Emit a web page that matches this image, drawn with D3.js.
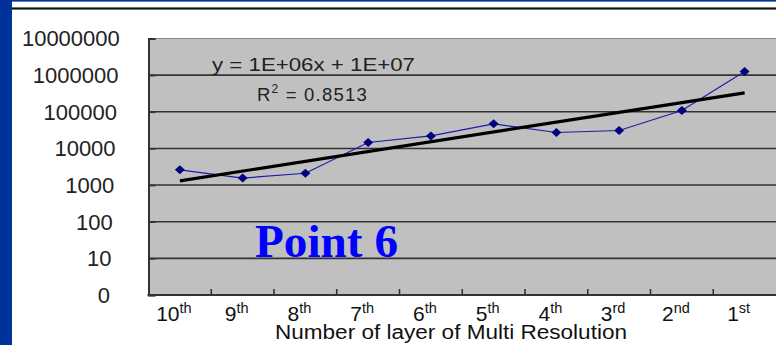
<!DOCTYPE html>
<html>
<head>
<meta charset="utf-8">
<script src="https://cdn.jsdelivr.net/npm/d3@7"></script>
<style>
  html, body { margin: 0; padding: 0; background: #fff; }
  svg { display: block; }
</style>
</head>
<body>
<svg id="chart" width="776" height="345"></svg>
<script>
// Layers of the multi-resolution pyramid, coarsest (10th) to finest (1st)
const layerNumbers = ["10", "9", "8", "7", "6", "5", "4", "3", "2", "1"];
const layerSuffixes = ["th", "th", "th", "th", "th", "th", "th", "rd", "nd", "st"];
// Measured value for Point 6 at each layer
const pointValues = [2600, 1550, 2100, 14500, 22000, 47000, 27200, 30800, 108000, 1260000];
// Logarithmic value axis
const yTickValues = [1, 10, 100, 1000, 10000, 100000, 1000000, 10000000];
const yTickLabels = ["0", "10", "100", "1000", "10000", "100000", "1000000", "10000000"];
const equationText = "y = 1E+06x + 1E+07";
const rSquaredText = "0.8513";
const annotationText = "Point 6";
const axisTitle = "Number of layer of Multi Resolution";

const svg = d3.select("#chart");
const W = 776, H = 345;
const plot = { left: 148.5, right: 776, top: 38.5, bottom: 295 };
const sans = "Liberation Sans, Arial, sans-serif";

// Slide frame: blue side strip, thin blue top band and a dark rule
svg.append("rect").attr("x", 0).attr("y", 0).attr("width", 12).attr("height", H).attr("fill", "#003399");
svg.append("rect").attr("x", 0).attr("y", 0).attr("width", W).attr("height", 1.6).attr("fill", "#003399");
svg.append("rect").attr("x", 12).attr("y", 7).attr("width", W - 12).attr("height", 3).attr("fill", "#8a8a8a");
svg.append("rect").attr("x", 12).attr("y", 7.8).attr("width", W - 12).attr("height", 1.4).attr("fill", "#111");

const ids = layerNumbers.map((d, i) => i);
const x = d3.scaleBand().domain(ids).range([plot.left, plot.right]).padding(0);
const y = d3.scaleLog().domain([1, 1e7]).range([plot.bottom, plot.top]);
const cx = i => x(i) + x.bandwidth() / 2;

// Plot area
svg.append("rect")
  .attr("x", plot.left).attr("y", plot.top)
  .attr("width", plot.right - plot.left).attr("height", plot.bottom - plot.top)
  .attr("fill", "#c0c0c0");
svg.append("line")
  .attr("x1", plot.left).attr("x2", plot.right)
  .attr("y1", plot.top).attr("y2", plot.top)
  .attr("stroke", "#8c8c8c").attr("stroke-width", 1);

// Horizontal gridlines at every decade
svg.append("g").selectAll("line")
  .data(yTickValues.slice(1, -1))
  .join("line")
  .attr("x1", plot.left).attr("x2", plot.right)
  .attr("y1", d => y(d)).attr("y2", d => y(d))
  .attr("stroke", "#333").attr("stroke-width", 1.6);

// Value axis: line with inward ticks, labels drawn separately
const yAxis = svg.append("g")
  .attr("transform", `translate(${plot.left},0)`)
  .call(d3.axisRight(y).tickValues(yTickValues).tickSize(7).tickFormat(""));
yAxis.select(".domain").attr("stroke", "#333").attr("stroke-width", 2);
yAxis.selectAll(".tick line").attr("stroke", "#333").attr("stroke-width", 1.6);

svg.append("g").selectAll("text")
  .data(yTickValues)
  .join("text")
  .attr("x", (d, i) => 110 + 1.4 * i)
  .attr("y", d => y(d))
  .attr("dy", "0.36em")
  .attr("text-anchor", "end")
  .attr("font-family", sans)
  .attr("font-size", 22)
  .attr("fill", "#222")
  .text((d, i) => yTickLabels[i]);

// Category axis: ticks between layers, pointing into the plot
const xEdges = ids.slice(1).map(i => x(i));
svg.append("g").selectAll("line")
  .data(xEdges)
  .join("line")
  .attr("x1", d => d).attr("x2", d => d)
  .attr("y1", plot.bottom - 6).attr("y2", plot.bottom)
  .attr("stroke", "#333").attr("stroke-width", 1.6);
svg.append("line")
  .attr("x1", plot.left - 1).attr("x2", plot.right)
  .attr("y1", plot.bottom).attr("y2", plot.bottom)
  .attr("stroke", "#333").attr("stroke-width", 2);

// Layer labels with ordinal superscripts
const xl = svg.append("g").selectAll("text")
  .data(ids)
  .join("text")
  .attr("x", i => cx(i) - 6)
  .attr("y", 321)
  .attr("text-anchor", "middle")
  .attr("font-family", sans)
  .attr("font-size", 21)
  .attr("fill", "#111");
xl.append("tspan").text(i => layerNumbers[i]);
xl.append("tspan")
  .attr("font-size", 14.5)
  .attr("dy", -8.5)
  .text(i => layerSuffixes[i]);

svg.append("text")
  .attr("x", 451).attr("y", 339)
  .attr("text-anchor", "middle")
  .attr("font-family", sans)
  .attr("font-size", 20)
  .attr("fill", "#111")
  .attr("textLength", 352).attr("lengthAdjust", "spacingAndGlyphs")
  .text(axisTitle);

// Trendline: least-squares fit of log10(value) against layer position
const lx = ids.map(i => i + 1);
const ly = pointValues.map(v => Math.log10(v));
const mx = d3.mean(lx), my = d3.mean(ly);
const slope = d3.sum(lx, (v, k) => (v - mx) * (ly[k] - my)) / d3.sum(lx, v => (v - mx) ** 2);
const intercept = my - slope * mx;
const trendAt = i => Math.pow(10, intercept + slope * (i + 1));
const first = ids[0], last = ids[ids.length - 1];

// Data series
svg.append("path")
  .datum(ids)
  .attr("fill", "none")
  .attr("stroke", "#1c1ca8")
  .attr("stroke-width", 1.2)
  .attr("d", d3.line().x(i => cx(i)).y(i => y(pointValues[i])));

svg.append("line")
  .attr("x1", cx(first)).attr("y1", y(trendAt(first)))
  .attr("x2", cx(last)).attr("y2", y(trendAt(last)))
  .attr("stroke", "#000").attr("stroke-width", 3.2);

svg.append("g").selectAll("path")
  .data(ids)
  .join("path")
  .attr("transform", i => `translate(${cx(i)},${y(pointValues[i])})`)
  .attr("d", "M0,-4.5L5,0L0,4.5L-5,0Z")
  .attr("fill", "#000080");

// Trendline equation and fit quality
svg.append("text")
  .attr("x", 212).attr("y", 71)
  .attr("font-family", sans)
  .attr("font-size", 18.5)
  .attr("fill", "#222")
  .attr("textLength", 203).attr("lengthAdjust", "spacingAndGlyphs")
  .text(equationText);

const r2 = svg.append("text")
  .attr("x", 257).attr("y", 101)
  .attr("font-family", sans)
  .attr("font-size", 18.5)
  .attr("fill", "#222")
  .attr("letter-spacing", 1.2);
r2.append("tspan").text("R");
r2.append("tspan").attr("font-size", 12).attr("dy", -8).text("2");
r2.append("tspan").attr("dy", 8).text(" = " + rSquaredText);

// Annotation
svg.append("text")
  .attr("x", 255).attr("y", 257)
  .attr("font-family", "Liberation Serif, 'Times New Roman', serif")
  .attr("font-weight", "bold")
  .attr("font-size", 46)
  .attr("fill", "#0000ff")
  .attr("textLength", 143).attr("lengthAdjust", "spacingAndGlyphs")
  .text(annotationText);
</script>
</body>
</html>
